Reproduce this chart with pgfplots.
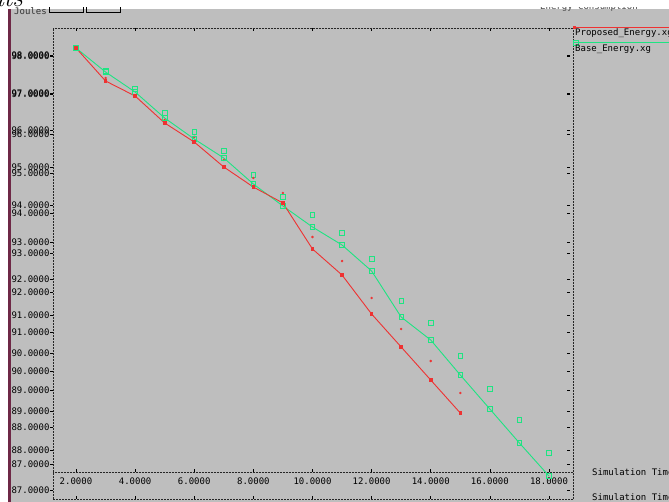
\documentclass[border=0pt]{standalone}
\usepackage{fontspec}
\usepackage{pgfplots}
\pgfplotsset{compat=1.18}
\newfontfamily\xmono{DejaVu Sans Mono}
\definecolor{bg}{RGB}{190,190,190}
\definecolor{xred}{RGB}{238,50,50}
\definecolor{xgreen}{RGB}{30,228,130}
\definecolor{wbar}{RGB}{110,40,70}
\newcommand{\mf}{\xmono\fontsize{9}{10}\selectfont}
\begin{document}
\begin{tikzpicture}[x=1pt,y=1pt]
\useasboundingbox (0,0) rectangle (669,502);
\fill[white] (0,0) rectangle (669,502);
\fill[bg] (11,0) rectangle (669,493);
% cut-off header items
\node[anchor=base west, inner sep=0, font=\mf, text=black!80] at (14,487) {Joules};
\draw[black, line width=0.6pt] (49,490) rectangle (83,500);
\draw[black, line width=0.6pt] (86,490) rectangle (120,500);
\node[anchor=base west, inner sep=0, font=\mf, text=black!70] at (540,492) {Energy Consumption};
\fill[white] (0,495) rectangle (669,502);
\fill[wbar] (8,0) rectangle (11,493);
\node[anchor=base west, inner sep=0, font=\itshape\fontsize{26}{26}\selectfont] at (-4,495) {its};

\begin{axis}[at={(53pt,3pt)}, anchor=south west, scale only axis,
  width=520pt, height=471pt,
  xmin=1.222, xmax=18.813, ymin=86.774, ymax=98.683,
  axis line style={densely dotted, line width=0.5pt, black!85},
  tick align=inside, major tick length=3pt,
  tick style={black, solid, line width=0.5pt},
  every y tick/.append style={xshift=-3pt},
  xtick={2,4,6,8,10,12,14,16,18},
  xticklabels={2.0000,4.0000,6.0000,8.0000,10.0000,12.0000,14.0000,16.0000,18.0000},
  xticklabel style={anchor=center, yshift=18pt},
  ytick={87,88,89,90,91,92,93,94,95,96,97,98,87.659,88.594,89.530,90.465,91.426,92.336,93.272,94.207,95.168,96.104,97.039,97.975},
  yticklabels={87.0000,88.0000,89.0000,90.0000,91.0000,92.0000,93.0000,94.0000,95.0000,96.0000,97.0000,98.0000,87.0000,88.0000,89.0000,90.0000,91.0000,92.0000,93.0000,94.0000,95.0000,96.0000,97.0000,98.0000},
  ticklabel style={font=\mf, text=black},
]
% second (inner) x axis line
\draw[densely dotted, line width=0.5pt, black!85] (axis cs:1.222,87.456) -- (axis cs:18.813,87.456);
\pgfplotsinvokeforeach{2,4,6,8,10,12,14,16,18}{\draw[black, line width=0.5pt] (axis cs:#1,87.456) -- ++(0pt,3pt);}
% extra point markers
\addplot[only marks, mark=square, mark size=2.3pt, xgreen, mark options={line width=0.7pt}] coordinates {
(3,97.595)(4,97.14)(5,96.533)(6,96.053)(7,95.573)(8,94.966)(9,94.410)(10,93.954)(11,93.499)(12,92.842)(13,91.780)(14,91.224)(15,90.389)(16,89.555)(17,88.771)(18,87.937)};
\addplot[only marks, mark=*, mark size=1pt, xred] coordinates {
(3,97.418)(5,96.357)(6,95.927)(7,95.345)(8,94.890)(9,94.511)(10,93.398)(11,92.791)(12,91.856)(13,91.072)(14,90.263)(15,89.454)};
% Base_Energy
\addplot[xgreen, line width=0.9pt, mark=square, mark size=2.3pt, mark options={line width=0.7pt}] coordinates {
(2,98.177)(3,97.570)(4,97.064)(5,96.407)(6,95.876)(7,95.396)(8,94.738)(9,94.182)(10,93.651)(11,93.196)(12,92.539)(13,91.375)(14,90.794)(15,89.909)(16,89.049)(17,88.190)(18,87.355)};
% Proposed_Energy
\addplot[xred, line width=0.9pt, mark=square*, mark size=1.3pt] coordinates {
(2,98.177)(3,97.343)(4,96.963)(5,96.281)(6,95.800)(7,95.168)(8,94.662)(9,94.258)(10,93.095)(11,92.437)(12,91.451)(13,90.617)(14,89.782)(15,88.948)};
\end{axis}
% legend (xgraph style)
\draw[xred, line width=1pt] (573,474) -- (669,474);
\fill[xred] (573,472.5) rectangle (576,475.5);
\draw[xgreen, line width=1pt] (573,459) -- (669,459);
\draw[xgreen, line width=0.7pt] (573.5,456.7) rectangle (578.1,461.3);
\node[anchor=base west, inner sep=0, font=\mf, text=black] at (575,466) {Proposed\_Energy.xg};
\node[anchor=base west, inner sep=0, font=\mf, text=black] at (575,450) {Base\_Energy.xg};
\node[anchor=base west, inner sep=0, font=\mf, text=black] at (592,26) {Simulation Time};
\node[anchor=base west, inner sep=0, font=\mf, text=black] at (592,1.5) {Simulation Time};
\end{tikzpicture}
\end{document}
